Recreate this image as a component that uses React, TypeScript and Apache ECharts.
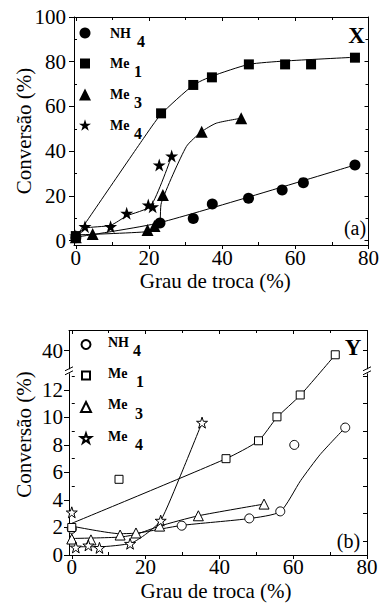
import React, { useEffect, useRef } from "react";
import * as echarts from "echarts";

const SERIF = "Liberation Serif, Times New Roman, serif";
const FAM = "Liberation Serif";
const STAR =
  "path://M50,0L61.8,35.1L98.9,35.1L68.9,56.9L80.3,92.1L50,70.4L19.7,92.1L31.1,56.9L1.1,35.1L38.2,35.1Z";

// ---------- legend / categories ----------
const seriesKeys = ["NH4", "Me1", "Me3", "Me4"];
const legendBase = ["NH", "Me", "Me", "Me"];
const legendSub = ["4", "1", "3", "4"];
const symbols = ["circle", "rect", "triangle", STAR];

// ---------- panel (a): zeolite X ----------
const nh4X = [[0, 1.2], [23, 7.8], [32.1, 9.9], [37.3, 16.3], [47.2, 18.9], [56.4, 22.6], [62.2, 25.9], [76.3, 33.8]];
const me1X = [[0, 2], [23.3, 56.9], [32.1, 69.6], [37.2, 73.0], [47.3, 78.8], [57.2, 78.8], [64.3, 78.8], [76.3, 81.8]];
const me3X = [[0, 1.5], [4.6, 2.9], [19.6, 4.7], [21.5, 6.5], [23.8, 20.4], [34.4, 48.7], [45.2, 54.7]];
const me4X = [[0, 2], [2.5, 6.2], [9.5, 6.2], [13.9, 12.2], [19.8, 15.9], [21, 15.1], [22.8, 33.8], [26.2, 37.8]];

const nh4FitX = [[0, 1.5], [23, 8], [76.3, 33.8]];
const me1FitX = [[0, 1.5], [18.5, 45.7], [23.3, 56.5], [32.1, 69.5], [37.2, 73.5], [47.3, 78.8], [57, 80.3], [76.3, 82]];
const me3FitX = [[0, 2.5], [20, 4], [22.8, 6], [23.4, 17], [30.2, 42], [34.4, 48.7], [38.4, 52.5], [45.2, 54.7]];
const me4FitX = [[0, 2], [2.5, 5.5], [9.5, 6.8], [13.9, 11], [20.5, 15.5], [26.2, 37.8]];

// ---------- panel (b): zeolite Y ----------
const nh4Y = [[0, 1.9], [29.8, 2.13], [48.1, 2.66], [56.5, 3.17], [60.3, 8.0], [74.1, 9.26]];
const me1Y = [[0, 2.0], [12.8, 5.5], [41.8, 7.0], [50.6, 8.3], [55.6, 10.04], [61.9, 11.63], [71.4, 39.7]];
const me3Y = [[0, 1.16], [5.2, 1.1], [13.1, 1.45], [17.4, 1.6], [23.8, 2.1], [34.3, 2.85], [52.1, 3.7]];
const me4Y = [[0, 3.1], [1.1, 0.55], [4.5, 0.7], [7.5, 0.52], [15.8, 0.82], [24.1, 2.5], [35.3, 9.62]];

const nh4FitY = [[0, 2.1], [13, 1.55], [18, 1.6], [29.8, 2.15], [48.1, 2.65], [56.5, 3.15], [62, 5.4], [67.3, 7.3], [74.1, 9.26]];
const me1FitY = [[0, 2.3], [41.8, 7.0], [50.6, 8.3], [55.6, 10.0], [61.9, 11.6], [71.4, 39.7]];
const me3FitY = [[0, 1.2], [13, 1.3], [17.4, 1.5], [23.8, 2.1], [34.3, 2.85], [52.1, 3.7]];
const me4FitY = [[0, 0.6], [7.5, 0.6], [16, 0.85], [20, 1.5], [24.1, 2.5], [29.5, 5.8], [35.3, 9.62]];

// ---------- ticks ----------
const xTicks = [0, 20, 40, 60, 80];
const yTicksA = [0, 20, 40, 60, 80, 100];
const yTicksB = [0, 2, 4, 6, 8, 10, 12, 40];
const yMinorB = [1, 3, 5, 7, 9, 11, 13];
const yBreak = [13.2, 38.65];

const isTick = (list: number[]) => (v: number) =>
  list.some((t) => Math.abs(t - v) < 1e-6) ? String(Math.round(v)) : "";

const black = "#000";
const labelStyle = { color: black, fontFamily: FAM, fontSize: 21, fontWeight: "normal" };

function axisBase(extra: any) {
  return {
    type: "value",
    axisLine: { show: true, onZero: false, lineStyle: { color: black, width: 1 } },
    axisTick: { show: true, inside: false, length: 5, lineStyle: { color: black, width: 1 } },
    minorTick: { show: true, splitNumber: 2, length: -3, lineStyle: { color: black, width: 1 } },
    splitLine: { show: false },
    minorSplitLine: { show: false },
    axisLabel: { ...labelStyle },
    nameMoveOverlap: false,
    nameTextStyle: { ...labelStyle },
    ...extra,
  };
}

function mirrorAxis(extra: any) {
  return {
    type: "value",
    axisLine: { show: true, onZero: false, lineStyle: { color: black, width: 1 } },
    axisTick: { show: true, inside: true, length: 4, lineStyle: { color: black, width: 1 } },
    minorTick: { show: true, splitNumber: 2, length: 3, lineStyle: { color: black, width: 1 } },
    splitLine: { show: false },
    minorSplitLine: { show: false },
    axisLabel: { show: false },
    ...extra,
  };
}

// legend icon centres (layout)
const legendYA = [33, 63.5, 94.5, 125];
const legendYB = [343.5, 374.5, 406, 437.5];

export default function App() {
  const ref = useRef<HTMLDivElement>(null);
  useEffect(() => {
    const chart = echarts.init(ref.current!, undefined, { renderer: "svg" });

    const scatterA = [nh4X, me1X, me3X, me4X];
    const fitA = [nh4FitX, me1FitX, me3FitX, me4FitX];
    const scatterB = [nh4Y, me1Y, me3Y, me4Y];
    const fitB = [nh4FitY, me1FitY, me3FitY, me4FitY];
    const sizeA = [11, 10, 12, 13];
    const sizeB = [9, 8, 10, 11];
    const legSizeA = [11, 10, 12, 12];
    const legSizeB = [9, 8, 10, 10];

    const series: any[] = [];
    const legends: any[] = [];
    for (let i = 0; i < 4; i++) {
      series.push({
        name: seriesKeys[i] + "-fitA", type: "line", xAxisIndex: 0, yAxisIndex: 0,
        data: fitA[i], showSymbol: false, symbol: "none", smooth: 0.2,
        lineStyle: { color: black, width: 1 }, silent: true, z: 2,
      });
      series.push({
        name: seriesKeys[i] + "-A", type: "scatter", xAxisIndex: 0, yAxisIndex: 0,
        data: scatterA[i], symbol: symbols[i], symbolSize: sizeA[i],
        itemStyle: { color: black, opacity: 1 }, z: 3,
      });
      series.push({
        name: seriesKeys[i] + "-fitB", type: "line", xAxisIndex: 2, yAxisIndex: 2,
        data: fitB[i], showSymbol: false, symbol: "none", smooth: 0.2,
        lineStyle: { color: black, width: 1 }, silent: true, z: 2,
      });
      series.push({
        name: seriesKeys[i] + "-B", type: "scatter", xAxisIndex: 2, yAxisIndex: 2,
        data: scatterB[i], symbol: symbols[i], symbolSize: sizeB[i],
        itemStyle: { color: "#fff", borderColor: black, borderWidth: 1, opacity: 1 }, z: 3,
      });
      legends.push({
        data: [seriesKeys[i] + "-A"], orient: "vertical", padding: 0, selectedMode: false,
        left: 85 - legSizeA[i] / 2, top: legendYA[i] - legSizeA[i] / 2,
        itemWidth: legSizeA[i], itemHeight: legSizeA[i],
        formatter: () => "", textStyle: { fontSize: 1 },
      });
      legends.push({
        data: [seriesKeys[i] + "-B"], orient: "vertical", padding: 0, selectedMode: false,
        left: 85 - legSizeB[i] / 2, top: legendYB[i] - legSizeB[i] / 2,
        itemWidth: legSizeB[i], itemHeight: legSizeB[i],
        formatter: () => "", textStyle: { fontSize: 1 },
      });
    }

    const option: any = {
      animation: false,
      backgroundColor: "#fff",
      textStyle: { fontFamily: FAM, color: black },
      grid: [
        { left: 74, top: 17, width: 294.5, height: 228, outerBoundsMode: "none", containLabel: false },
        { left: 69, top: 330, width: 298, height: 225, outerBoundsMode: "none", containLabel: false },
      ],
      xAxis: [
        axisBase({
          gridIndex: 0, position: "bottom", min: -0.5, max: 80,
          axisTick: { show: true, inside: false, length: 4, customValues: xTicks, lineStyle: { color: black } },
          axisLabel: { ...labelStyle, margin: 2, customValues: xTicks, formatter: isTick(xTicks) },
          name: "Grau de troca (%)", nameLocation: "middle", nameGap: 25,
          nameTextStyle: { ...labelStyle, padding: [0, 12, 0, 0] },
        }),
        mirrorAxis({ gridIndex: 0, position: "top", min: -0.5, max: 80 }),
        axisBase({
          gridIndex: 1, position: "bottom", min: -0.75, max: 80,
          axisTick: { show: true, inside: false, length: 4, customValues: xTicks, lineStyle: { color: black } },
          axisLabel: { ...labelStyle, margin: 1, customValues: xTicks, formatter: isTick(xTicks) },
          name: "Grau de troca (%)", nameLocation: "middle", nameGap: 25,
          nameTextStyle: { ...labelStyle, padding: [0, 4, 0, 0] },
        }),
        mirrorAxis({ gridIndex: 1, position: "top", min: -0.75, max: 80 }),
      ],
      yAxis: [
        axisBase({
          gridIndex: 0, position: "left", min: -2, max: 100,
          axisTick: { show: true, inside: false, length: 5, customValues: yTicksA, lineStyle: { color: black } },
          axisLabel: { ...labelStyle, margin: 8, customValues: yTicksA, formatter: isTick(yTicksA) },
          name: "Conversão (%)", nameLocation: "middle", nameGap: 40,
        }),
        mirrorAxis({ gridIndex: 0, position: "right", min: -2, max: 100 }),
        axisBase({
          gridIndex: 1, position: "left", min: 0, max: 41.5, interval: 2,
          breaks: [{ start: yBreak[0], end: yBreak[1], gap: 0.3 }],
          breakArea: { show: false, expandOnClick: false },
          axisTick: { show: true, inside: false, length: 5, customValues: yTicksB, lineStyle: { color: black } },
          minorTick: { show: false },
          axisLabel: { ...labelStyle, margin: 6, customValues: yTicksB, formatter: isTick(yTicksB) },
          name: "Conversão (%)", nameLocation: "middle", nameGap: 35,
          nameTextStyle: { ...labelStyle, padding: [0, 0, 0, 16] },
        }),
        mirrorAxis({
          gridIndex: 1, position: "right", min: 0, max: 41.5, interval: 2,
          breaks: [{ start: yBreak[0], end: yBreak[1], gap: 0.3 }],
          breakArea: { show: false, expandOnClick: false },
          axisTick: { show: true, inside: true, length: 4, customValues: [...yMinorB, 40], lineStyle: { color: black } },
          minorTick: { show: false },
        }),
        // inner minor ticks for the left axis of panel (b)
        {
          type: "value", gridIndex: 1, position: "left", min: 0, max: 41.5, interval: 2,
          breaks: [{ start: yBreak[0], end: yBreak[1], gap: 0.3 }],
          breakArea: { show: false, expandOnClick: false },
          axisLine: { show: false },
          axisTick: { show: true, inside: true, length: 3, customValues: yMinorB, lineStyle: { color: black } },
          axisLabel: { show: false }, splitLine: { show: false },
        },
      ],
      legend: legends,
      series,
    };

    chart.setOption(option);

    const lo = Number(chart.convertToPixel({ yAxisIndex: 2 } as any, yBreak[0]));
    const hi = Number(chart.convertToPixel({ yAxisIndex: 2 } as any, yBreak[1]));
    const mid = (lo + hi) / 2;

    const breakMark = (x: number) => [
      { type: "rect", shape: { x: x - 2, y: mid - 2, width: 4, height: 4 }, style: { fill: "#fff" }, z: 100 },
      { type: "line", shape: { x1: x - 4, y1: mid - 0.5, x2: x + 4, y2: mid - 4.5 }, style: { stroke: black, lineWidth: 1 }, z: 101 },
      { type: "line", shape: { x1: x - 4, y1: mid + 3.5, x2: x + 4, y2: mid - 0.5 }, style: { stroke: black, lineWidth: 1 }, z: 101 },
    ];

    const txt = (text: string, x: number, y: number, font: string, align = "center") => ({
      type: "text", x, y, z: 100,
      style: { text, font, fill: black, align, verticalAlign: "middle", textAlign: align, textVerticalAlign: "middle" },
    });

    const legendTexts: any[] = [];
    const subXA = [137, 134, 134, 134];
    const subXB = [133, 136, 135, 135];
    for (let i = 0; i < 4; i++) {
      legendTexts.push(txt(legendBase[i], 110, legendYA[i], `bold 14px ${SERIF}`, "left"));
      legendTexts.push(txt(legendSub[i], subXA[i], legendYA[i] + 8, `bold 16px ${SERIF}`, "left"));
      legendTexts.push(txt(legendBase[i], 108, legendYB[i] - 1.5, `bold 14px ${SERIF}`, "left"));
      legendTexts.push(txt(legendSub[i], subXB[i], legendYB[i] + 7, `bold 16px ${SERIF}`, "left"));
    }

    chart.setOption({
      graphic: [
        txt("X", 356.5, 35.5, `bold 23px ${SERIF}`),
        txt("(a)", 355, 228, `20px ${SERIF}`),
        txt("Y", 353, 347.5, `bold 23px ${SERIF}`),
        txt("(b)", 348.5, 541, `20px ${SERIF}`),
        ...legendTexts,
        ...breakMark(69),
        ...breakMark(367),
      ],
    });

    return () => chart.dispose();
  }, []);

  return (
    <div
      ref={ref}
      style={{ position: "fixed", left: 0, top: 0, width: 380, height: 603, background: "#fff" }}
    />
  );
}
